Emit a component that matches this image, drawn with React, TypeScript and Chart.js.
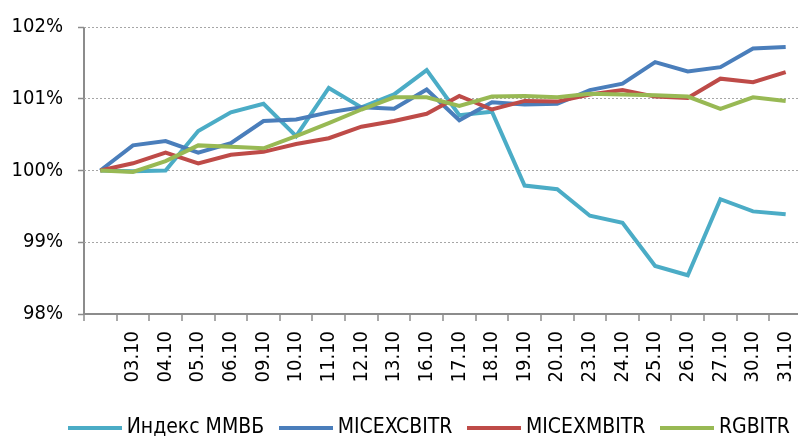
import React, { useEffect, useRef } from "react";
import { Chart, registerables } from "chart.js";

Chart.register(...registerables);

const categories = ['', '03.10', '04.10', '05.10', '06.10', '09.10', '10.10', '11.10', '12.10', '13.10', '16.10', '17.10', '18.10', '19.10', '20.10', '23.10', '24.10', '25.10', '26.10', '27.10', '30.10', '31.10'];

const seriesNames = ['Индекс ММВБ', 'MICEXCBITR', 'MICEXMBITR', 'RGBITR'];

const mmvb = [100.00, 99.99, 100.00, 100.55, 100.81, 100.93, 100.48, 101.15, 100.88, 101.06, 101.40, 100.77, 100.82, 99.79, 99.74, 99.37, 99.27, 98.67, 98.54, 99.60, 99.43, 99.39];
const micexcbitr = [100.00, 100.35, 100.41, 100.25, 100.38, 100.69, 100.71, 100.81, 100.88, 100.86, 101.13, 100.70, 100.95, 100.92, 100.93, 101.12, 101.21, 101.51, 101.38, 101.44, 101.70, 101.72];
const micexmbitr = [100.00, 100.10, 100.25, 100.10, 100.22, 100.26, 100.37, 100.45, 100.61, 100.69, 100.79, 101.04, 100.85, 100.97, 100.96, 101.06, 101.12, 101.03, 101.01, 101.28, 101.23, 101.37];
const rgbitr = [100.00, 99.98, 100.13, 100.35, 100.33, 100.31, 100.48, 100.66, 100.85, 101.02, 101.02, 100.90, 101.03, 101.04, 101.02, 101.07, 101.06, 101.05, 101.03, 100.86, 101.02, 100.97];

const yTicks = [98, 99, 100, 101, 102];

const colors = ['#4BACC6', '#4A7EBB', '#BE4B48', '#98B954'];

const FONT = "'DejaVu Sans Condensed', 'DejaVu Sans', sans-serif";
const AXIS = '#8c8c8c';

function makeLineImg(color: string) {
  const c = document.createElement('canvas');
  c.width = 54;
  c.height = 4;
  const ctx = c.getContext('2d')!;
  ctx.fillStyle = color;
  ctx.fillRect(0, 0, 54, 4);
  return c;
}

export default function App() {
  const ref = useRef<HTMLCanvasElement | null>(null);
  useEffect(() => {
    if (!ref.current) return;
    const imgs = colors.map(makeLineImg);
    const allData = [mmvb, micexcbitr, micexmbitr, rgbitr];
    const chart = new Chart(ref.current, {
      type: 'line',
      data: {
        labels: categories,
        datasets: allData.map((d, i) => ({
          label: seriesNames[i],
          data: d,
          borderColor: colors[i],
          backgroundColor: colors[i],
          borderWidth: 4,
          pointRadius: 0,
          tension: 0,
          order: 4 - i,
          yAxisID: 'y',
        })),
      },
      options: {
        animation: false,
        responsive: false,
        events: [],
        layout: { padding: { top: 10, left: 0, right: 0, bottom: 0 } },
        scales: {
          x: {
            type: 'category',
            offset: true,
            grid: {
              display: true,
              offset: true,
              drawOnChartArea: true,
              color: (c: any) => (c.index === 0 ? AXIS : 'rgba(0,0,0,0)'),
              lineWidth: (c: any) => (c.index === 0 ? 2 : 0),
              drawTicks: true,
              tickLength: 7,
              tickColor: AXIS,
              tickWidth: 1.5,
            },
            border: { display: true, color: AXIS, width: 2 },
            ticks: {
              autoSkip: false,
              minRotation: 90,
              maxRotation: 90,
              padding: 10,
              color: '#000',
              font: { family: FONT, size: 20 },
            },
            afterFit: (s: any) => { s.height = 82; },
          },
          y: {
            type: 'linear',
            position: 'left',
            min: 98,
            max: 102,
            afterBuildTicks: (s: any) => { s.ticks = yTicks.map((v) => ({ value: v })); },
            grid: {
              display: true,
              color: '#a6a6a6',
              lineWidth: 1,
              drawTicks: true,
              tickLength: 6,
              tickColor: AXIS,
              tickWidth: 1.5,
              tickBorderDash: [],
            },
            border: { display: false, dash: [2, 2] },
            ticks: {
              padding: 15,
              color: '#000',
              font: { family: FONT, size: 20 },
              callback: (v: any) => v + '%',
            },
            afterFit: (s: any) => { s.width = 84; },
          },
          y2: {
            type: 'linear',
            position: 'right',
            min: 0,
            max: 1,
            grid: { display: false },
            border: { display: false },
            ticks: { display: false },
            afterFit: (s: any) => { s.width = 62; },
          },
        },
        plugins: {
          tooltip: { enabled: false },
          legend: {
            position: 'bottom',
            labels: {
              usePointStyle: true,
              pointStyleWidth: 42,
              padding: 21,
              color: '#000',
              font: { family: FONT, size: 21 },
              sort: (a: any, b: any) => a.datasetIndex - b.datasetIndex,
              generateLabels: (ch: any) => {
                const items = (Chart.defaults.plugins.legend.labels as any).generateLabels(ch);
                items.forEach((it: any) => { it.pointStyle = imgs[it.datasetIndex]; });
                return items;
              },
            },
          },
        },
      },
    });
    return () => chart.destroy();
  }, []);
  return (
    <div style={{ position: 'fixed', left: 0, top: 0, width: 798, height: 437, overflow: 'hidden', background: '#fff' }}>
      <canvas ref={ref} width={864} height={448} style={{ width: 864, height: 448, display: 'block' }} />
    </div>
  );
}
